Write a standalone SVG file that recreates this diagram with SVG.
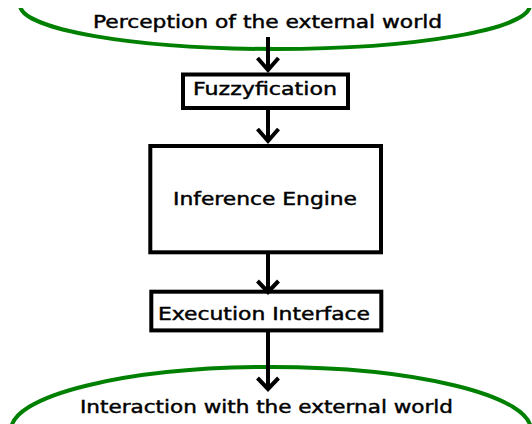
<svg xmlns="http://www.w3.org/2000/svg" width="532" height="424" viewBox="0 0 532 424">
  <style>
    .world { fill: none; stroke: #008000; stroke-width: 4; }
    .box { fill: #ffffff; stroke: #000000; stroke-width: 4; }
    .label { font-family: "DejaVu Sans", "Liberation Sans", sans-serif; font-size: 18px; fill: #000000; stroke: #000000; stroke-width: 0.45; text-anchor: middle; }
    .link { fill: none; stroke: #000000; stroke-width: 4; }
    .head { fill: none; stroke: #000000; stroke-width: 4; stroke-linejoin: miter; }
  </style>
  <defs>
    <clipPath id="topClip">
      <rect x="0" y="8" width="532" height="60"/>
    </clipPath>
  </defs>
  <rect width="532" height="424" fill="#ffffff"/>

  <!-- outer world: input side -->
  <g id="perception">
    <ellipse class="world" cx="275" cy="5" rx="255" ry="44" clip-path="url(#topClip)"/>
    <text class="label" x="267.5" y="28" textLength="349" lengthAdjust="spacingAndGlyphs">Perception of the external world</text>
  </g>

  <!-- outer world: output side -->
  <g id="interaction">
    <ellipse class="world" cx="271" cy="430" rx="260" ry="63"/>
    <text class="label" x="266.5" y="413" textLength="373" lengthAdjust="spacingAndGlyphs">Interaction with the external world</text>
  </g>

  <g id="fuzzyfication">
    <rect class="box" x="183" y="74.5" width="165" height="33.5"/>
    <text class="label" x="265" y="95" textLength="144" lengthAdjust="spacingAndGlyphs">Fuzzyfication</text>
  </g>

  <g id="inference">
    <rect class="box" x="150.3" y="146" width="230.7" height="106.3"/>
    <text class="label" x="265" y="205" textLength="184" lengthAdjust="spacingAndGlyphs">Inference Engine</text>
  </g>

  <g id="execution">
    <rect class="box" x="151.3" y="291.7" width="230" height="38.7"/>
    <text class="label" x="264" y="320" textLength="212" lengthAdjust="spacingAndGlyphs">Execution Interface</text>
  </g>

  <!-- flow arrows -->
  <g id="connectors">
    <line class="link" x1="268" y1="37" x2="268" y2="71"/>
    <polyline class="head" points="257.5,58 268,70 278.5,58"/>

    <line class="link" x1="268" y1="110" x2="268" y2="140"/>
    <polyline class="head" points="257.5,129 268,141 278.5,129"/>

    <line class="link" x1="268" y1="254" x2="268" y2="291"/>
    <polyline class="head" points="257.5,281 268,292 278.5,281"/>

    <line class="link" x1="268" y1="332" x2="268" y2="388"/>
    <polyline class="head" points="257.5,378 268,389 278.5,378"/>
  </g>
</svg>
